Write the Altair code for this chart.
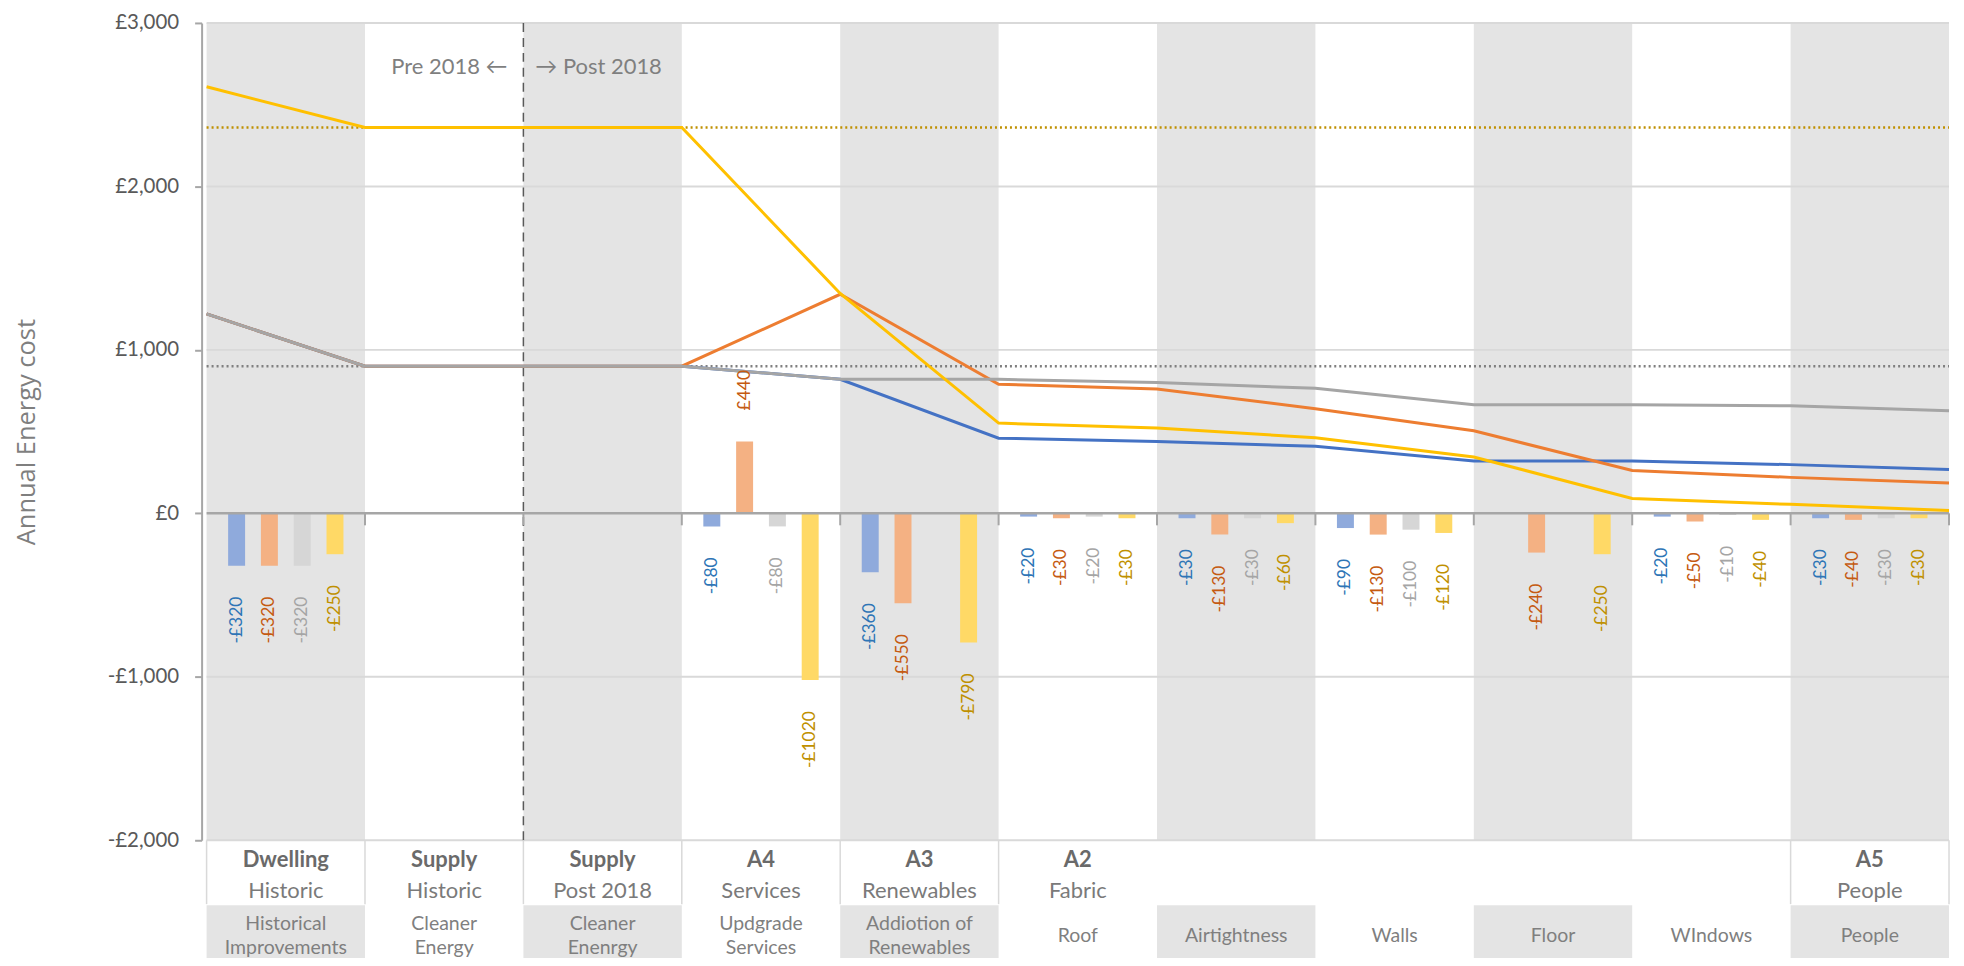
import altair as alt
import pandas as pd

# ---------------- data ----------------
categories = ["Historical Improvements", "Cleaner Energy", "Cleaner Enenrgy", "Updgrade Services",
              "Addiotion of Renewables", "Roof", "Airtightness", "Walls", "Floor", "WIndows", "People"]
group_top = ["Dwelling", "Supply", "Supply", "A4", "A3", "A2", "", "", "", "", "A5"]
group_sub = ["Historic", "Historic", "Post 2018", "Services", "Renewables", "Fabric", "", "", "", "", "People"]
cat_line1 = ["Historical", "Cleaner", "Cleaner", "Updgrade", "Addiotion of", "Roof",
             "Airtightness", "Walls", "Floor", "WIndows", "People"]
cat_line2 = ["Improvements", "Energy", "Enenrgy", "Services", "Renewables", "", "", "", "", "", ""]
group_dividers = [0, 1, 2, 3, 4, 5, 10, 11]
era_divider = [2]
era_labels = ["Pre 2018 \u2190", "\u2192 Post 2018"]

series = ["Series 1", "Series 2", "Series 3", "Series 4"]

# change in annual energy cost per measure (bars)
bars_s1 = [-320, 0, 0, -80, -360, -20, -30, -90, 0, -20, -30]
bars_s2 = [-320, 0, 0, 440, -550, -30, -130, -130, -240, -50, -40]
bars_s3 = [-320, 0, 0, -80, 0, -20, -30, -100, 0, -10, -30]
bars_s4 = [-250, 0, 0, -1020, -790, -30, -60, -120, -250, -40, -30]

# running annual energy cost at each category boundary (lines)
line_s1 = [1220, 900, 900, 900, 820, 460, 440, 410, 320, 320, 298, 268]
line_s2 = [1220, 900, 900, 900, 1340, 790, 760, 640, 505, 262, 220, 185]
line_s3 = [1220, 900, 900, 900, 820, 820, 800, 765, 665, 665, 658, 628]
line_s4 = [2610, 2360, 2360, 2360, 1345, 552, 522, 463, 345, 91, 55, 18]

reference_values = [2360, 900]

y_ticks = [-2000, -1000, 0, 1000, 2000, 3000]
grid_values = [3000, 2000, 1000, -1000, -2000]

# ---------------- styles ----------------
LINE_COLORS = ["#4472C4", "#ED7D31", "#A5A5A5", "#FFC000"]
BAR_COLORS = ["#8FAADC", "#F4B183", "#D6D6D6", "#FFD966"]
LABEL_COLORS = ["#2E75B6", "#C55A11", "#A5A5A5", "#BF9000"]
REF_COLORS = ["#BF9000", "#7F7F7F"]
BAND = "#E4E4E4"
GROUP_STEP = 0.207  # offset between bars within a category (fraction of category width)
PLOT_H = 819

n_cat = len(categories)
XS = alt.Scale(domain=[0, n_cat], nice=False, zero=False)
YS = alt.Scale(domain=[-2000, 3000], nice=False, zero=False)

YAXIS = alt.Axis(
    values=y_ticks,
    labelExpr="(datum.value < 0 ? '-£' : '£') + format(abs(datum.value), ',')",
    labelFont="Lato", labelFontSize=20.5, labelColor="#595959", labelPadding=16,
    tickSize=7, tickColor="#A6A6A6", tickWidth=2,
    domainColor="#A6A6A6", domainWidth=2, grid=False,
    title="Annual Energy cost", titleFont="Open Sans", titleFontSize=25.5,
    titleFontWeight="normal", titleColor="#7F7F7F",
    titleX=-175, titleY=PLOT_H / 2, titleAngle=270, titleAlign="center", titleBaseline="middle",
)


def X(field):
    return alt.X(field, type="quantitative", scale=XS, axis=None)


def Y(field):
    return alt.Y(field, type="quantitative", scale=YS, axis=YAXIS)


# ---------------- frames ----------------
cat_df = pd.DataFrame({
    "i": list(range(n_cat)), "cat": categories, "top": group_top, "sub": group_sub,
    "line1": cat_line1, "line2": cat_line2,
})
cat_df["i2"] = cat_df["i"] + 1
cat_df["cx"] = cat_df["i"] + 0.5

bar_lists = [bars_s1, bars_s2, bars_s3, bars_s4]
rows = []
for s, vals in enumerate(bar_lists):
    for i, v in enumerate(vals):
        if v != 0:
            rows.append({"series": series[s], "s": s, "i": i, "value": v,
                         "zero": 0,
                         "label": ("-£" if v < 0 else "£") + str(abs(v)),
                         "bar_col": BAR_COLORS[s], "lab_col": LABEL_COLORS[s]})
bars_df = pd.DataFrame(rows)
bars_df["bx"] = bars_df["i"] + 0.5 + (bars_df["s"] - 1.5) * GROUP_STEP

line_lists = [line_s1, line_s2, line_s3, line_s4]
line_df = pd.DataFrame([
    {"series": series[s], "k": k, "value": v}
    for s, vals in enumerate(line_lists) for k, v in enumerate(vals)
])

# pixel offsets below the plot converted to data units (layout only)
U = 5000 / PLOT_H


def below(px):
    return -2000 - px * U


grid_df = pd.DataFrame({"v": grid_values, "x0": 0, "x1": n_cat})
ref_df = pd.DataFrame({"v": reference_values, "col": REF_COLORS, "x0": 0, "x1": n_cat})
zero_df = pd.DataFrame({"v": [0], "x0": [0], "x1": [n_cat]})
tick_df = pd.DataFrame({"b": list(range(1, n_cat + 1)), "y0": 0, "y1": -12 * U})
div_df = pd.DataFrame({"b": group_dividers, "y0": -2000, "y1": below(64)})
era_df = pd.DataFrame({"b": era_divider, "y0": 3000, "y1": -2000, "ty": 3000 - 44 * U,
                       "pre": [era_labels[0]], "post": [era_labels[1]]})

# ---------------- layers ----------------
band_df = cat_df[cat_df["i"] % 2 == 0].copy()
band_df["y0"] = 3000
band_df["y1"] = -2000
bands = alt.Chart(band_df).mark_rect(color=BAND).encode(
    x=X("i"), x2=alt.X2("i2"), y=Y("y0"), y2=alt.Y2("y1")
)

grid = alt.Chart(grid_df).mark_rule(color="#D9D9D9", strokeWidth=2).encode(
    x=X("x0"), x2=alt.X2("x1"), y=Y("v")
)

era_line = alt.Chart(era_df).mark_rule(color="#595959", strokeWidth=1.5, strokeDash=[9, 6]).encode(
    x=X("b"), y=Y("y0"), y2=alt.Y2("y1")
)

refs = alt.Chart(ref_df).mark_rule(strokeWidth=2.5, strokeDash=[2, 3]).encode(
    x=X("x0"), x2=alt.X2("x1"), y=Y("v"),
    color=alt.Color("col", type="nominal", scale=None),
)

bars = alt.Chart(bars_df).mark_bar(size=17).encode(
    x=X("bx"), y=Y("value"), y2=alt.Y2("zero"),
    color=alt.Color("bar_col", type="nominal", scale=None),
)

zero = alt.Chart(zero_df).mark_rule(color="#A6A6A6", strokeWidth=2.5).encode(
    x=X("x0"), x2=alt.X2("x1"), y=Y("v")
)
zero_ticks = alt.Chart(tick_df).mark_rule(color="#A6A6A6", strokeWidth=2).encode(
    x=X("b"), y=Y("y0"), y2=alt.Y2("y1")
)

line_layers = []
for s in [0, 1, 2, 3]:
    line_layers.append(
        alt.Chart(line_df[line_df["series"] == series[s]]).mark_line(
            strokeWidth=3, color=LINE_COLORS[s]
        ).encode(x=X("k"), y=Y("value"))
    )

neg_labels = alt.Chart(bars_df[bars_df["value"] < 0]).mark_text(
    angle=270, align="right", baseline="middle", dx=-31, font="Lato", fontSize=17.5
).encode(x=X("bx"), y=Y("value"), text=alt.Text("label", type="nominal"),
         color=alt.Color("lab_col", type="nominal", scale=None))
pos_labels = alt.Chart(bars_df[bars_df["value"] > 0]).mark_text(
    angle=270, align="left", baseline="middle", dx=31, font="Lato", fontSize=17.5
).encode(x=X("bx"), y=Y("value"), text=alt.Text("label", type="nominal"),
         color=alt.Color("lab_col", type="nominal", scale=None))

pre_txt = alt.Chart(era_df).mark_text(
    align="right", baseline="middle", dx=-16, font="Lato", fontSize=22, color="#7F7F7F"
).encode(x=X("b"), y=Y("ty"), text=alt.Text("pre", type="nominal"))
post_txt = alt.Chart(era_df).mark_text(
    align="left", baseline="middle", dx=12, font="Lato", fontSize=22, color="#7F7F7F"
).encode(x=X("b"), y=Y("ty"), text=alt.Text("post", type="nominal"))

# category axis, level 1 (groups)
row1_div = alt.Chart(div_df).mark_rule(color="#D9D9D9", strokeWidth=1.5).encode(
    x=X("b"), y=Y("y0"), y2=alt.Y2("y1")
)
top_df = cat_df[cat_df["top"] != ""].copy()
top_df["ya"] = below(20)
top_df["yb"] = below(50.5)
row1_top = alt.Chart(top_df).mark_text(
    font="Lato", fontSize=22, fontWeight="bold", color="#6A6A6A", baseline="middle"
).encode(x=X("cx"), y=Y("ya"), text=alt.Text("top", type="nominal"))
row1_sub = alt.Chart(top_df).mark_text(
    font="Lato", fontSize=22, color="#7A7A7A", baseline="middle"
).encode(x=X("cx"), y=Y("yb"), text=alt.Text("sub", type="nominal"))

# category axis, level 2 (measures)
box_df = band_df.copy()
box_df["y0"] = below(65)
box_df["y1"] = below(140)
row2_box = alt.Chart(box_df).mark_rect(color=BAND).encode(
    x=X("i"), x2=alt.X2("i2"), y=Y("y0"), y2=alt.Y2("y1")
)
r2_df = cat_df.copy()
r2_df["ya"] = [(below(96) if b == "" else below(84)) for b in r2_df["line2"]]
r2_df["yb"] = below(108)
row2_a = alt.Chart(r2_df).mark_text(
    font="Lato", fontSize=19.5, color="#7F7F7F", baseline="middle"
).encode(x=X("cx"), y=Y("ya"), text=alt.Text("line1", type="nominal"))
row2_b = alt.Chart(r2_df[r2_df["line2"] != ""]).mark_text(
    font="Lato", fontSize=19.5, color="#7F7F7F", baseline="middle"
).encode(x=X("cx"), y=Y("yb"), text=alt.Text("line2", type="nominal"))

chart = alt.layer(
    bands, grid, era_line, refs, bars, zero, zero_ticks, *line_layers,
    neg_labels, pos_labels, pre_txt, post_txt,
    row1_div, row1_top, row1_sub, row2_box, row2_a, row2_b,
).properties(
    width=1756, height=PLOT_H,
    autosize=alt.AutoSizeParams(type="none"),
    padding={"left": 194, "top": 14, "right": 2, "bottom": 117},
    background="white",
).configure_view(stroke=None)

chart.save("out.html", embed_options={"renderer": "svg", "actions": False})
